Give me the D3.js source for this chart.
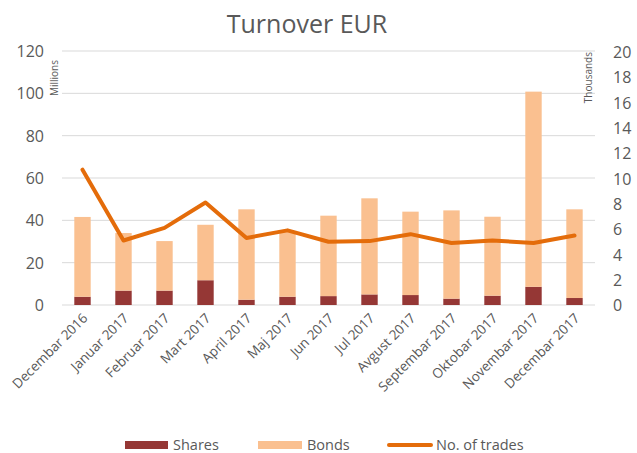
<!DOCTYPE html>
<html>
<head>
<meta charset="utf-8">
<script src="https://cdn.jsdelivr.net/npm/d3@7"></script>
<style>
  body { margin: 0; background: #fff; }
  text { font-family: "Open Sans", Lato, sans-serif; fill: #595959; }
</style>
</head>
<body>
<div class="container"></div>
<script>
var months = ["Decembar 2016", "Januar 2017", "Februar 2017", "Mart 2017", "April 2017", "Maj 2017",
              "Jun 2017", "Jul 2017", "Avgust 2017", "Septembar 2017", "Oktobar 2017", "Novembar 2017", "Decembar 2017"];
// millions EUR
var shares = [3.9, 6.8, 6.8, 11.7, 2.5, 3.9, 4.2, 5.0, 4.7, 3.0, 4.4, 8.6, 3.3];
var bonds  = [37.7, 27.2, 23.4, 26.2, 42.7, 30.6, 38.0, 45.4, 39.4, 41.7, 37.3, 92.2, 41.9];
// thousands
var trades = [10.7, 5.1, 6.1, 8.1, 5.3, 5.9, 5.0, 5.05, 5.6, 4.9, 5.1, 4.9, 5.5];
var leftTicks = [0, 20, 40, 60, 80, 100, 120];
var rightTicks = [0, 2, 4, 6, 8, 10, 12, 14, 16, 18, 20];

var WIDTH = 637, HEIGHT = 453;
var LEFT = 62, RIGHT = 595, TOP = 51, BOTTOM = 305;

var svg = d3.select('.container').append('svg')
	.attr('width', WIDTH)
	.attr('height', HEIGHT);

var x = d3.scaleBand().domain(months).range([LEFT, RIGHT]).paddingInner(0.6).paddingOuter(0.3);
var yL = d3.scaleLinear().domain([0, 120]).range([BOTTOM, TOP]);
var yR = d3.scaleLinear().domain([0, 20]).range([BOTTOM, TOP + 1]);

// title
svg.append('text')
	.attr('x', 307).attr('y', 33)
	.attr('text-anchor', 'middle')
	.style('font-size', '25px')
	.text('Turnover EUR');

// gridlines
svg.append('g').selectAll('line').data(leftTicks)
	.enter().append('line')
	.attr('x1', LEFT).attr('x2', RIGHT)
	.attr('y1', function(d) { return yL(d); })
	.attr('y2', function(d) { return yL(d); })
	.attr('stroke', '#d9d9d9')
	.attr('stroke-width', 1);

// left axis
var leftAxis = svg.append('g')
	.attr('transform', 'translate(' + (LEFT - 18) + ',0)')
	.call(d3.axisLeft(yL).tickValues(leftTicks).tickSize(0).tickPadding(0));
leftAxis.select('.domain').remove();
leftAxis.selectAll('text').style('font-size', '16px').attr('fill', '#595959').attr('dy', '0.35em');

// right axis
var rightAxis = svg.append('g')
	.attr('transform', 'translate(' + (RIGHT + 18) + ',0)')
	.call(d3.axisRight(yR).tickValues(rightTicks).tickSize(0).tickPadding(0));
rightAxis.select('.domain').remove();
rightAxis.selectAll('text').style('font-size', '16px').attr('fill', '#595959').attr('dy', '0.35em');

// unit labels
svg.append('text')
	.attr('transform', 'translate(58,60) rotate(-90)')
	.attr('text-anchor', 'end')
	.style('font-size', '10px')
	.text('Millions');
svg.append('text')
	.attr('transform', 'translate(592,52) rotate(-90)')
	.attr('text-anchor', 'end')
	.style('font-size', '10px')
	.text('Thousands');

// stacked bars
var rows = months.map(function(m, i) { return { month: m, shares: shares[i], bonds: bonds[i] }; });
var stack = d3.stack().keys(['shares', 'bonds'])(rows);
var colors = { shares: '#953735', bonds: '#fac090' };

svg.append('g').selectAll('g').data(stack)
	.enter().append('g')
	.attr('fill', function(d) { return colors[d.key]; })
	.selectAll('rect').data(function(d) { return d; })
	.enter().append('rect')
	.attr('x', function(d) { return x(d.data.month); })
	.attr('width', x.bandwidth())
	.attr('y', function(d) { return yL(d[1]); })
	.attr('height', function(d) { return yL(d[0]) - yL(d[1]); });

// trades line
var line = d3.line()
	.x(function(d, i) { return x(months[i]) + x.bandwidth() / 2; })
	.y(function(d) { return yR(d); });

svg.append('path')
	.datum(trades)
	.attr('d', line)
	.attr('fill', 'none')
	.attr('stroke', '#e46c0a')
	.attr('stroke-width', 4)
	.attr('stroke-linejoin', 'round')
	.attr('stroke-linecap', 'round');

// x labels
svg.append('g').selectAll('text').data(months)
	.enter().append('text')
	.attr('transform', function(d) {
		return 'translate(' + (x(d) + x.bandwidth() / 2 + 6) + ',' + (BOTTOM + 14) + ') rotate(-45)';
	})
	.attr('text-anchor', 'end')
	.style('font-size', '13.5px')
	.text(function(d) { return d; });

// legend
var legend = svg.append('g');
legend.append('rect').attr('x', 125).attr('y', 441).attr('width', 43).attr('height', 8).attr('fill', colors.shares);
legend.append('text').attr('x', 173).attr('y', 449.5).style('font-size', '14.5px').text('Shares');
legend.append('rect').attr('x', 258).attr('y', 441).attr('width', 44).attr('height', 8).attr('fill', colors.bonds);
legend.append('text').attr('x', 307).attr('y', 449.5).style('font-size', '14.5px').text('Bonds');
legend.append('line').attr('x1', 389).attr('x2', 431).attr('y1', 445).attr('y2', 445)
	.attr('stroke', '#e46c0a').attr('stroke-width', 4).attr('stroke-linecap', 'round');
legend.append('text').attr('x', 436).attr('y', 449.5).style('font-size', '14.5px').text('No. of trades');
</script>
</body>
</html>
